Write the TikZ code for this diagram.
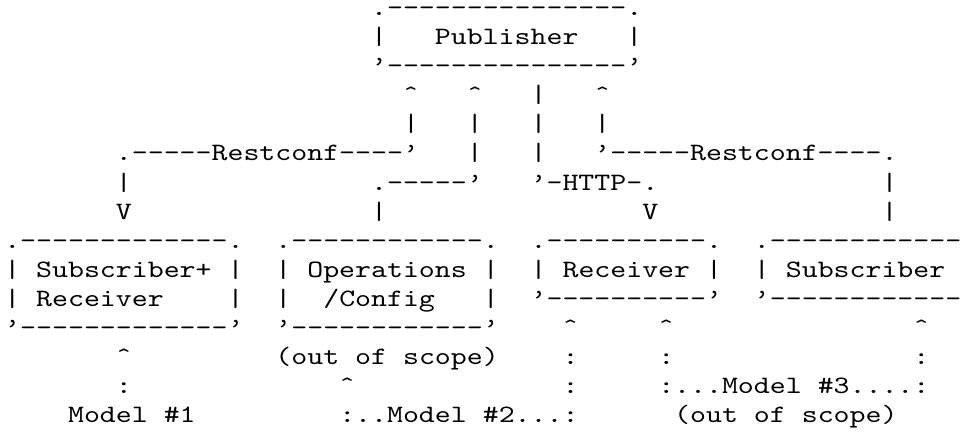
\documentclass[tikz,border=0pt]{standalone}
\usepackage{fontspec}
\newfontfamily\asciifont{lmmono10-regular.otf}[FakeStretch=1.215]
\newfontfamily\caretfont{lmmono10-regular.otf}
\newcommand\artrun[4]{\node[asciitext] (#1) at ({4.3+15.95*(#3)},{-15.45-29.1*(#2)}) {#4};}
\newcommand\caretat[3]{\node[carettext] (#1) at ({12.275+15.95*(#3)},{-15.45-29.1*(#2)}) {\textasciicircum};}
\begin{document}
\begin{tikzpicture}[x=1pt,y=1pt,
  asciitext/.style={anchor=base west, inner sep=0pt, outer sep=0pt,
    text height=11pt, text depth=4pt,
    font=\asciifont\fontsize{25}{30}\selectfont, text=black},
  carettext/.style={anchor=base, inner sep=0pt, outer sep=0pt,
    text height=11pt, text depth=4pt,
    font=\caretfont\fontsize{25}{30}\selectfont, text=black}]
\fill[white] (0,0) rectangle (968,-433);
\useasboundingbox (0,0) rectangle (968,-433);
% Publisher box
\artrun{pubtop}{0}{23}{.---------------.}
\artrun{publ}{1}{23}{|}
\artrun{pubtxt}{1}{27}{Publisher}
\artrun{pubr}{1}{39}{|}
\artrun{pubbot}{2}{23}{’---------------’}
% row 3
\caretat{r3a}{3}{25}
\caretat{r3b}{3}{29}
\artrun{r3c}{3}{33}{|}
\caretat{r3d}{3}{37}
% row 4
\artrun{r4a}{4}{25}{|}
\artrun{r4b}{4}{29}{|}
\artrun{r4c}{4}{33}{|}
\artrun{r4d}{4}{37}{|}
% row 5
\artrun{r5a}{5}{7}{.-----Restconf----’}
\artrun{r5b}{5}{29}{|}
\artrun{r5c}{5}{33}{|}
\artrun{r5d}{5}{37}{’-----Restconf----.}
% row 6
\artrun{r6a}{6}{7}{|}
\artrun{r6b}{6}{23}{.-----’}
\artrun{r6c}{6}{33}{’-HTTP-.}
\artrun{r6d}{6}{55}{|}
% row 7
\artrun{r7a}{7}{7}{V}
\artrun{r7b}{7}{23}{|}
\artrun{r7c}{7}{40}{V}
\artrun{r7d}{7}{55}{|}
% row 8: box tops
\artrun{subrtop}{8}{0}{.-------------.}
\artrun{opstop}{8}{17}{.------------.}
\artrun{rectop}{8}{33}{.----------.}
\artrun{subtop}{8}{47}{.------------}
% row 9
\artrun{subrl1}{9}{0}{|}
\artrun{subrtxt1}{9}{2}{Subscriber+}
\artrun{subrr1}{9}{14}{|}
\artrun{opsl1}{9}{17}{|}
\artrun{opstxt1}{9}{19}{Operations}
\artrun{opsr1}{9}{30}{|}
\artrun{recl}{9}{33}{|}
\artrun{rectxt}{9}{35}{Receiver}
\artrun{recr}{9}{44}{|}
\artrun{subl}{9}{47}{|}
\artrun{subtxt}{9}{49}{Subscriber}
% row 10
\artrun{subrl2}{10}{0}{|}
\artrun{subrtxt2}{10}{2}{Receiver}
\artrun{subrr2}{10}{14}{|}
\artrun{opsl2}{10}{17}{|}
\artrun{opstxt2}{10}{20}{/Config}
\artrun{opsr2}{10}{30}{|}
\artrun{recbot}{10}{33}{’----------’}
\artrun{subbot}{10}{47}{’------------}
% row 11
\artrun{subrbot}{11}{0}{’-------------’}
\artrun{opsbot}{11}{17}{’------------’}
\caretat{r11a}{11}{35}
\caretat{r11b}{11}{41}
\caretat{r11c}{11}{57}
% row 12
\caretat{r12a}{12}{7}
\artrun{oos1a}{12}{17}{(out}
\artrun{oos1b}{12}{22}{of}
\artrun{oos1c}{12}{25}{scope)}
\artrun{r12b}{12}{35}{:}
\artrun{r12c}{12}{41}{:}
\artrun{r12d}{12}{57}{:}
% row 13
\artrun{r13a}{13}{7}{:}
\caretat{r13b}{13}{21}
\artrun{r13c}{13}{35}{:}
\artrun{m3a}{13}{41}{:...Model}
\artrun{m3b}{13}{51}{\#3....:}
% row 14
\artrun{m1a}{14}{4}{Model}
\artrun{m1b}{14}{10}{\#1}
\artrun{m2a}{14}{21}{:..Model}
\artrun{m2b}{14}{30}{\#2...:}
\artrun{oos2a}{14}{42}{(out}
\artrun{oos2b}{14}{47}{of}
\artrun{oos2c}{14}{50}{scope)}
\end{tikzpicture}
\end{document}
